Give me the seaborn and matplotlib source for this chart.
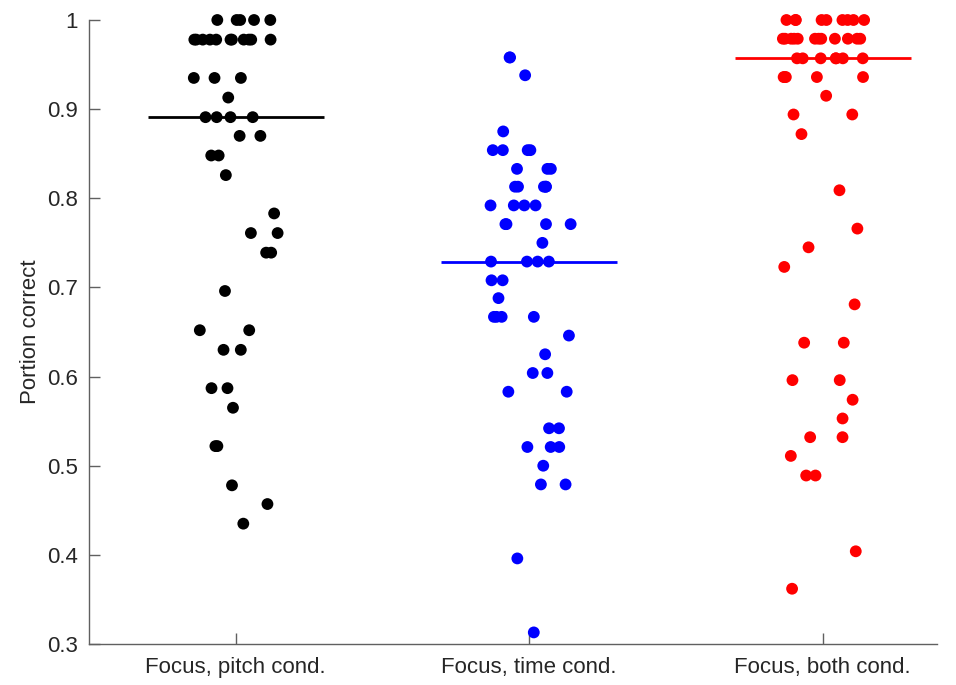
import numpy as np
import pandas as pd
import matplotlib
matplotlib.use('Agg')
import matplotlib.pyplot as plt
import seaborn as sns

conditions = ['Focus, pitch cond.', 'Focus, time cond.', 'Focus, both cond.']
colors = ['#000000', '#0000ff', '#ff0000']

# portion correct per participant
pitch_scores = [1.000, 1.000, 1.000, 1.000, 1.000,
                0.978, 0.978, 0.978, 0.978, 0.978, 0.978, 0.978, 0.978, 0.978, 0.978, 0.978,
                0.935, 0.935, 0.935, 0.913,
                0.891, 0.891, 0.891, 0.891,
                0.870, 0.870, 0.848, 0.848, 0.826, 0.783, 0.761, 0.761, 0.739, 0.739,
                0.696, 0.652, 0.652, 0.630, 0.630, 0.587, 0.587, 0.565,
                0.522, 0.522, 0.478, 0.457, 0.435]

time_scores = [0.958, 0.958, 0.938, 0.875,
               0.854, 0.854, 0.854, 0.854, 0.833, 0.833, 0.833,
               0.813, 0.813, 0.813, 0.813, 0.813, 0.792, 0.792, 0.792, 0.792,
               0.771, 0.771, 0.771, 0.771, 0.750,
               0.729, 0.729, 0.729, 0.729, 0.708, 0.708, 0.688,
               0.667, 0.667, 0.667, 0.667, 0.646, 0.625, 0.604, 0.604, 0.583, 0.583,
               0.542, 0.542, 0.521, 0.521, 0.521, 0.500, 0.479, 0.479, 0.396, 0.313]

both_scores = [1.000, 1.000, 1.000, 1.000, 1.000, 1.000, 1.000, 1.000, 1.000,
               0.979, 0.979, 0.979, 0.979, 0.979, 0.979, 0.979, 0.979, 0.979, 0.979, 0.979, 0.979,
               0.957, 0.957, 0.957, 0.957, 0.957, 0.957, 0.957,
               0.936, 0.936, 0.936, 0.936, 0.936, 0.915, 0.894, 0.894, 0.872,
               0.809, 0.766, 0.745, 0.723, 0.681, 0.638, 0.638, 0.596, 0.596,
               0.574, 0.553, 0.532, 0.532, 0.511, 0.489, 0.489, 0.404, 0.362]

df = pd.DataFrame({
    'condition': [conditions[0]] * len(pitch_scores) + [conditions[1]] * len(time_scores)
                 + [conditions[2]] * len(both_scores),
    'score': pitch_scores + time_scores + both_scores,
})

sns.set_style('white')
plt.rcParams['font.family'] = ['Liberation Sans', 'DejaVu Sans']

fig = plt.figure(figsize=(9.56, 6.85), dpi=100)
ax = fig.add_axes([89 / 956, 41 / 685, (937 - 89) / 956, (644 - 20) / 685])

np.random.seed(3)
sns.stripplot(data=df, x='condition', y='score', hue='condition', order=conditions,
              hue_order=conditions, palette=colors, jitter=0.15, size=8.5,
              linewidth=0, legend=False, ax=ax)
for coll in ax.collections:
    coll.set_clip_on(False)

# median lines
medians = df.groupby('condition')['score'].median()
for i, cond in enumerate(conditions):
    ax.hlines(medians[cond], i - 0.3, i + 0.3, color=colors[i], linewidth=2, zorder=1)

ax.set_xlim(-0.5, 2.39)
ax.set_ylim(0.3, 1.0)
ax.set_yticks([0.3, 0.4, 0.5, 0.6, 0.7, 0.8, 0.9, 1.0])
ax.set_yticklabels(['0.3', '0.4', '0.5', '0.6', '0.7', '0.8', '0.9', '1'])
ax.set_xlabel('')
ax.set_ylabel('Portion correct', fontsize=16, color='#262626')

for side in ['top', 'right']:
    ax.spines[side].set_visible(False)
for side in ['left', 'bottom']:
    ax.spines[side].set_color('#606060')
    ax.spines[side].set_linewidth(1.0)
ax.tick_params(axis='both', direction='in', length=8, width=1, color='#606060',
               labelsize=16, labelcolor='#262626', left=True, bottom=True)
ax.tick_params(axis='y', pad=8)
ax.tick_params(axis='x', pad=9)

fig.savefig('out.png', dpi=100)
